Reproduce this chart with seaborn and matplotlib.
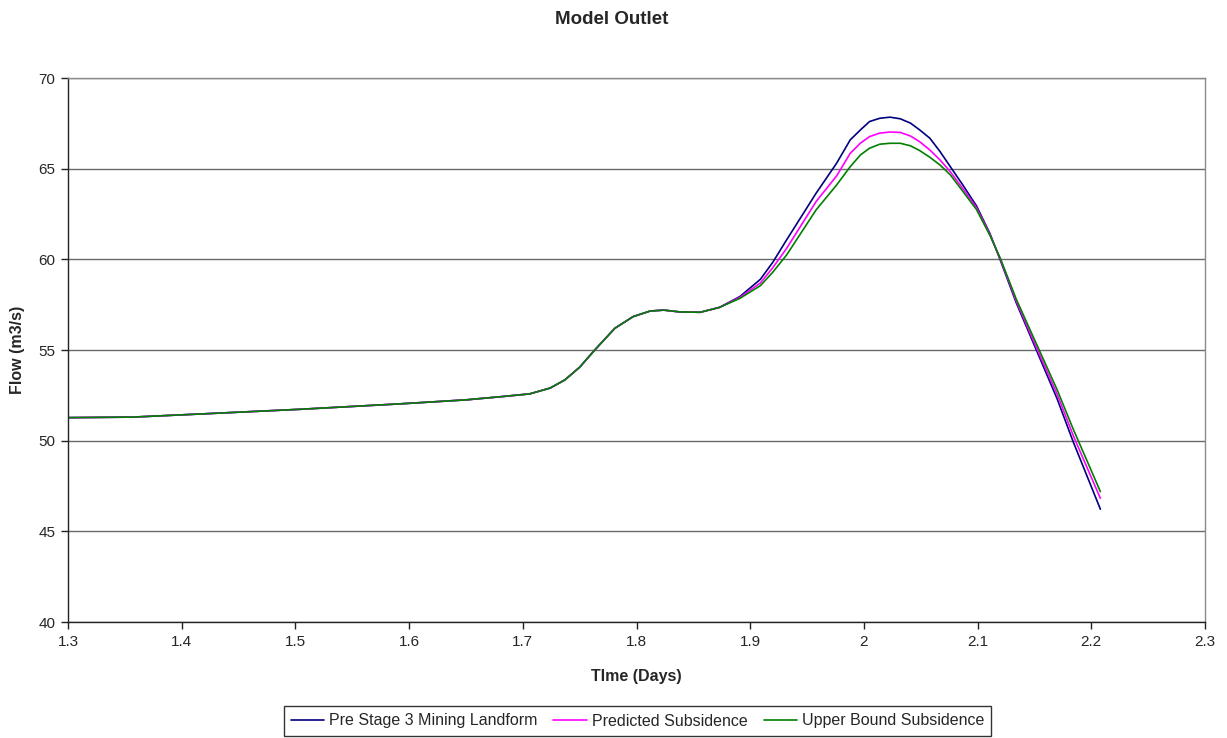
import matplotlib
matplotlib.use("Agg")
import matplotlib.pyplot as plt
import seaborn as sns
import pandas as pd

days = [1.300, 1.357, 1.416, 1.504, 1.592, 1.650, 1.680, 1.706, 1.724, 1.737,
        1.750, 1.764, 1.781, 1.797, 1.812, 1.824, 1.838, 1.856, 1.873, 1.891,
        1.909, 1.920, 1.932, 1.958, 1.976, 1.988, 1.997, 2.005, 2.014, 2.023,
        2.032, 2.041, 2.049, 2.058, 2.067, 2.076, 2.087, 2.099, 2.111, 2.120,
        2.134, 2.152, 2.170, 2.184, 2.197, 2.208]

pre_stage3 = [51.27, 51.30, 51.47, 51.73, 52.03, 52.25, 52.42, 52.58, 52.90, 53.35,
              54.05, 55.05, 56.20, 56.84, 57.15, 57.20, 57.10, 57.08, 57.35, 57.95,
              58.90, 59.85, 61.07, 63.65, 65.30, 66.59, 67.14, 67.60, 67.78, 67.84,
              67.75, 67.51, 67.14, 66.68, 65.94, 65.11, 64.10, 62.95, 61.40, 59.95,
              57.60, 54.95, 52.30, 49.95, 47.93, 46.22]

predicted = [51.27, 51.30, 51.47, 51.73, 52.03, 52.25, 52.42, 52.58, 52.90, 53.35,
             54.05, 55.05, 56.20, 56.84, 57.15, 57.20, 57.10, 57.08, 57.35, 57.90,
             58.70, 59.55, 60.60, 63.19, 64.60, 65.85, 66.41, 66.77, 66.96, 67.02,
             67.00, 66.80, 66.49, 66.03, 65.48, 64.83, 63.90, 62.85, 61.35, 60.00,
             57.70, 55.10, 52.55, 50.30, 48.41, 46.82]

upper_bound = [51.27, 51.30, 51.47, 51.73, 52.03, 52.25, 52.42, 52.58, 52.90, 53.35,
               54.05, 55.05, 56.20, 56.84, 57.15, 57.20, 57.10, 57.08, 57.35, 57.85,
               58.55, 59.30, 60.24, 62.73, 64.10, 65.11, 65.76, 66.13, 66.35, 66.40,
               66.40, 66.26, 66.00, 65.63, 65.20, 64.66, 63.75, 62.75, 61.30, 60.05,
               57.80, 55.30, 52.80, 50.65, 48.78, 47.19]

series_names = ["Pre Stage 3 Mining Landform", "Predicted Subsidence", "Upper Bound Subsidence"]
colors = ["#000080", "#FF00FF", "#008000"]
x_ticks = [1.3, 1.4, 1.5, 1.6, 1.7, 1.8, 1.9, 2.0, 2.1, 2.2, 2.3]
x_tick_labels = ["1.3", "1.4", "1.5", "1.6", "1.7", "1.8", "1.9", "2", "2.1", "2.2", "2.3"]
y_ticks = [40, 45, 50, 55, 60, 65, 70]

df = pd.concat([
    pd.DataFrame({"Days": days, "Flow": vals, "Series": name})
    for name, vals in zip(series_names, [pre_stage3, predicted, upper_bound])
])

sns.set_style("white")
plt.rcParams["font.family"] = ["Liberation Sans", "DejaVu Sans"]

fig = plt.figure(figsize=(12.27, 7.38), dpi=100)
ax = fig.add_axes([68 / 1227, 1 - 622 / 738, (1205 - 68) / 1227, (622 - 78) / 738])

sns.lineplot(data=df, x="Days", y="Flow", hue="Series", hue_order=series_names,
             palette=dict(zip(series_names, colors)), linewidth=1.2, ax=ax,
             estimator=None, sort=False)

ax.set_xlim(1.3, 2.3)
ax.set_ylim(40, 70)
ax.set_xticks(x_ticks)
ax.set_xticklabels(x_tick_labels)
ax.set_yticks(y_ticks)
ax.yaxis.grid(True, color="#6a6a6a", linewidth=1.0)
ax.xaxis.grid(False)
ax.set_axisbelow(True)

for side in ["top", "right"]:
    ax.spines[side].set_color("#8a8a8a")
    ax.spines[side].set_linewidth(1.0)
for side in ["left", "bottom"]:
    ax.spines[side].set_color("#222222")
    ax.spines[side].set_linewidth(1.0)

ax.tick_params(axis="both", direction="out", length=5, width=1, color="#222222",
               labelsize=11, pad=4, left=True, bottom=True)

ax.set_xlabel("TIme (Days)", fontsize=11.5, fontweight="bold", labelpad=15)
ax.set_ylabel("Flow (m3/s)", fontsize=11.5, fontweight="bold", labelpad=10)

fig.text(0.4985, 1 - 19 / 738, "Model Outlet", ha="center", va="center",
         fontsize=13.5, fontweight="bold")

handles, labels = ax.get_legend_handles_labels()
if ax.legend_:
    ax.legend_.remove()
leg = fig.legend(handles, labels, loc="center", bbox_to_anchor=(637.5 / 1227, 1 - 721 / 738),
                 ncol=3, frameon=True, fancybox=False, fontsize=11.5, handlelength=2.1,
                 handletextpad=0.3, columnspacing=1.0, borderpad=0.45, borderaxespad=0,
                 edgecolor="black")
leg.get_frame().set_linewidth(1.0)

fig.savefig("out.png", dpi=100, facecolor="white")
